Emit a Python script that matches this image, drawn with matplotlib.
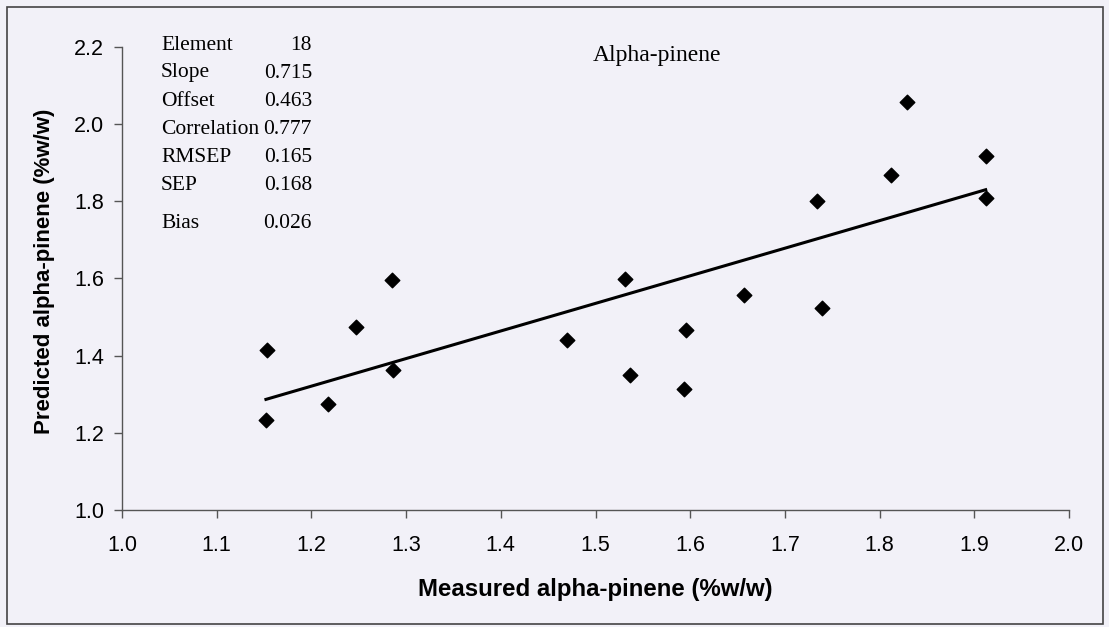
import matplotlib
matplotlib.use("Agg")
import matplotlib.pyplot as plt
import numpy as np

# measured vs predicted alpha-pinene (%w/w)
measured = [1.152, 1.153, 1.218, 1.247, 1.285, 1.286, 1.470, 1.531, 1.536,
            1.596, 1.593, 1.657, 1.734, 1.739, 1.812, 1.829, 1.912, 1.912]
predicted = [1.233, 1.415, 1.275, 1.474, 1.596, 1.362, 1.441, 1.599, 1.350,
             1.467, 1.313, 1.556, 1.800, 1.523, 1.867, 2.058, 1.918, 1.808]

stat_names = ["Element", "Slope", "Offset", "Correlation", "RMSEP", "SEP", "Bias"]
stat_values = ["18", "0.715", "0.463", "0.777", "0.165", "0.168", "0.026"]
slope = 0.715
offset = 0.463

x_ticks = [1.0, 1.1, 1.2, 1.3, 1.4, 1.5, 1.6, 1.7, 1.8, 1.9, 2.0]
y_ticks = [1.0, 1.2, 1.4, 1.6, 1.8, 2.0, 2.2]

bg = "#f2f1f8"
serif = "Liberation Serif"
sans = "Liberation Sans"
W, H = 1109, 627

fig = plt.figure(figsize=(W / 100, H / 100), dpi=100, facecolor=bg)
ax = fig.add_axes([122 / W, 1 - 510 / H, (1069 - 122) / W, (510 - 47) / H])
ax.set_facecolor(bg)

# outer frame of the chart area
fig.patches.append(plt.Rectangle((7 / W, 1 - 624 / H), 1096 / W, 617 / H,
                                 transform=fig.transFigure, fill=False,
                                 edgecolor="#444444", linewidth=1.2))

ax.scatter(measured, predicted, marker="D", s=55, color="black", zorder=3)

fit_x = np.array([min(measured), max(measured)])
ax.plot(fit_x, offset + slope * fit_x, color="black", linewidth=2.2, zorder=2)

ax.set_xlim(1.0, 2.0)
ax.set_ylim(1.0, 2.2)
ax.set_xticks(x_ticks)
ax.set_yticks(y_ticks)
ax.set_xticklabels([f"{t:.1f}" for t in x_ticks], fontfamily=sans, fontsize=15.5)
ax.set_yticklabels([f"{t:.1f}" for t in y_ticks], fontfamily=sans, fontsize=15.5)
ax.tick_params(direction="out", length=6, width=1, color="#555555")
ax.tick_params(axis="x", pad=12)
ax.tick_params(axis="y", pad=7)

for side in ["top", "right"]:
    ax.spines[side].set_visible(False)
for side in ["left", "bottom"]:
    ax.spines[side].set_color("#555555")
    ax.spines[side].set_linewidth(1)

ax.set_xlabel("Measured alpha-pinene (%w/w)", fontfamily=sans, fontweight="bold",
              fontsize=17.3, labelpad=16)
ax.set_ylabel("Predicted alpha-pinene (%w/w)", fontfamily=sans, fontweight="bold",
              fontsize=16)
ax.yaxis.set_label_coords(-0.071, 0.515)

# positions below are in pixels from the top-left corner of the picture
ax.annotate("Alpha-pinene", xy=(657, H - 55), xycoords="figure pixels",
            fontfamily=serif, fontsize=17, ha="center", va="center")

row_y = [45, 73, 101, 130, 158, 186, 224]
for name, val, yy in zip(stat_names, stat_values, row_y):
    ax.annotate(name, xy=(161, H - yy), xycoords="figure pixels", fontfamily=serif,
                fontsize=15.5, ha="left", va="center")
    ax.annotate(val, xy=(312, H - yy), xycoords="figure pixels", fontfamily=serif,
                fontsize=15.5, ha="right", va="center")

fig.savefig("out.png", dpi=100, facecolor=bg)
